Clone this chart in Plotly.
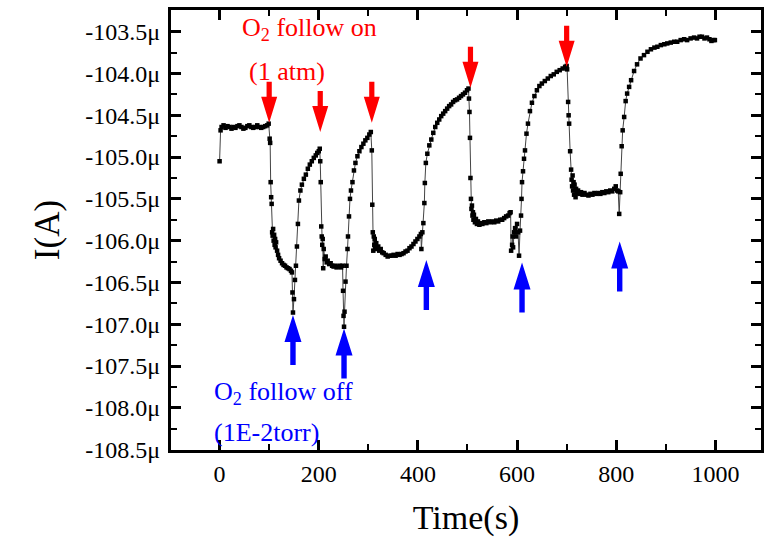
import plotly.graph_objects as go

# ---- data (time in s, current in µA) ----
time_s = [
    0, 2, 4, 8, 12, 16, 20, 24, 28, 32, 36, 40, 44, 48, 52, 56, 60, 64, 68, 72, 76, 80, 84, 88, 92, 96, 99,
    101, 102, 103, 104, 105, 106, 107, 108, 109, 110, 111, 112, 113, 114, 116, 118, 120, 123, 126, 129, 132, 135, 138, 141, 144, 146,
    147, 148, 150, 152, 154, 156, 158, 160, 163, 166, 170, 174, 178, 182, 186, 190, 194, 197, 200, 202,
    203, 204, 205, 206, 207, 208, 209, 210, 212, 214, 216, 218, 221, 224, 227, 230, 233, 236, 239, 242, 245, 248,
    249, 250, 251, 252, 254, 256, 258, 259, 261, 263, 265, 268, 271, 274, 278, 282, 286, 290, 294, 298, 302, 305,
    307, 308, 309, 310, 311, 312, 313, 314, 316, 318, 320, 322, 325, 328, 331, 335, 339, 343, 347, 351, 355, 359,
    363, 367, 371, 375, 379, 383, 387, 391, 395, 399, 403, 406, 407, 409, 411, 413, 414, 416, 419, 423, 427, 431,
    435, 439, 443, 447, 451, 455, 459, 463, 467, 471, 475, 479, 483, 487, 491, 495, 499, 502,
    503, 504, 505, 506, 507, 508, 509, 510, 511, 512, 513, 515, 517, 519, 521, 524, 527, 530, 534, 538, 542, 546,
    550, 554, 558, 562, 566, 570, 574, 578, 582, 585, 587,
    588, 590, 591, 592, 594, 596, 598, 600, 602, 604, 606, 608, 609, 610, 612, 614, 616, 619, 622, 626, 630, 635,
    640, 645, 650, 656, 662, 668, 674, 680, 686, 692, 697, 700,
    701, 703, 704, 705, 707, 709, 710, 711, 712, 713, 714, 715, 716, 718, 719, 721, 723, 726, 729, 732, 736, 740,
    744, 748, 752, 756, 760, 764, 768, 772, 776, 780, 784, 788, 792, 796, 799, 802, 804, 806, 808,
    809, 811, 813, 816, 819, 822, 826, 830, 836, 842, 849, 856, 863, 870, 877, 883, 890, 897, 903, 910, 917, 923,
    930, 937, 943, 950, 957, 963, 968, 973, 978, 983, 988, 992, 996, 999,
]
current_uA = [
    -105.05, -104.68, -104.64, -104.62, -104.65, -104.63, -104.64, -104.66, -104.64, -104.65, -104.63, -104.62,
    -104.64, -104.66, -104.65, -104.63, -104.62, -104.64, -104.65, -104.64, -104.62, -104.64, -104.65, -104.64,
    -104.63, -104.62, -104.60,
    -104.78, -104.83, -105.30, -105.48, -105.56, -105.90, -105.94, -105.86, -106.00, -105.93, -106.05, -105.98,
    -106.08, -106.02, -106.12, -106.17, -106.21, -106.24, -106.27, -106.29, -106.30, -106.32, -106.33, -106.34,
    -106.36, -106.38,
    -106.62, -106.86, -106.70, -106.47, -106.30, -106.07, -105.80, -105.52, -105.40, -105.33, -105.26, -105.21,
    -105.14, -105.09, -105.05, -105.01, -104.98, -104.95, -104.93, -104.90,
    -105.05, -105.30, -105.83, -105.95, -106.05, -105.98, -106.33, -106.10, -106.22, -106.19, -106.26, -106.24,
    -106.28, -106.27, -106.30, -106.31, -106.30, -106.32, -106.31, -106.30, -106.32, -106.30,
    -106.60, -106.90, -107.03, -106.85, -106.49, -106.30, -106.10, -105.95, -105.71, -105.50, -105.40, -105.30,
    -105.16, -105.07, -104.99, -104.93, -104.88, -104.84, -104.80, -104.77, -104.73, -104.70,
    -104.92, -105.57, -105.90, -106.12, -105.95, -106.05, -105.98, -106.08, -106.03, -106.10, -106.07, -106.12,
    -106.10, -106.14, -106.15, -106.17, -106.19, -106.18, -106.18, -106.17, -106.18, -106.16,
    -106.17, -106.16, -106.15, -106.13, -106.12, -106.09, -106.07, -106.04, -106.01, -105.98, -105.95, -105.92,
    -106.10, -105.90, -105.79, -105.55, -105.31, -105.07, -104.96, -104.86, -104.79, -104.71,
    -104.64, -104.59, -104.55, -104.51, -104.48, -104.45, -104.42, -104.39, -104.37, -104.34, -104.32, -104.31,
    -104.29, -104.27, -104.25, -104.23, -104.20, -104.18,
    -104.30, -104.46, -104.77, -105.25, -105.50, -105.62, -105.58, -105.70, -105.66, -105.75, -105.69, -105.78,
    -105.74, -105.80, -105.77, -105.81, -105.79, -105.80, -105.78, -105.79, -105.77, -105.78,
    -105.77, -105.78, -105.76, -105.77, -105.75, -105.75, -105.73, -105.71, -105.70, -105.67, -105.66,
    -106.12, -106.05, -105.95, -106.08, -105.90, -105.85, -105.95, -105.80, -105.90, -106.18, -105.88, -105.70,
    -105.50, -105.30, -105.17, -105.02, -104.92, -104.72, -104.60, -104.45, -104.35, -104.27,
    -104.20, -104.15, -104.12, -104.09, -104.06, -104.03, -104.01, -103.98, -103.96, -103.94, -103.92, -103.91,
    -103.95, -104.34, -104.50, -104.60, -104.93, -105.15, -105.27, -105.35, -105.22, -105.40, -105.30, -105.45,
    -105.33, -105.48, -105.38, -105.43, -105.40, -105.44, -105.42, -105.45, -105.43, -105.45,
    -105.46, -105.44, -105.45, -105.43, -105.44, -105.43, -105.44, -105.42, -105.43, -105.41, -105.42, -105.40,
    -105.41, -105.38, -105.35, -105.40, -105.41, -105.68, -105.42,
    -105.20, -104.87, -104.68, -104.52, -104.33, -104.24, -104.16, -104.08, -103.97, -103.89, -103.82, -103.78,
    -103.74, -103.71, -103.69, -103.68, -103.66, -103.65, -103.64, -103.63, -103.62, -103.62,
    -103.60, -103.59, -103.60, -103.58, -103.57, -103.58, -103.56, -103.56, -103.58, -103.57, -103.59, -103.61,
    -103.60, -103.60,
]

# arrow tips (data coordinates)
red_arrow_t = [100, 203, 307, 506, 700]
red_arrow_i = [-104.59, -104.70, -104.59, -104.17, -103.92]
blue_arrow_t = [148, 251, 417, 610, 807]
blue_arrow_i = [-106.89, -107.05, -106.23, -106.26, -106.01]

x_ticks = [0, 200, 400, 600, 800, 1000]
y_ticks = [-108.5, -108.0, -107.5, -107.0, -106.5, -106.0, -105.5, -105.0, -104.5, -104.0, -103.5]
y_tick_text = [f"{v:.1f}μ" for v in y_ticks]

FONT = "Liberation Serif"

fig = go.Figure()
fig.add_trace(go.Scatter(
    x=time_s, y=current_uA, mode="lines+markers",
    line=dict(color="#444444", width=1),
    marker=dict(symbol="square", size=4.5, color="black"),
    showlegend=False,
))

down_path = "M0,0 L-8,26 L-2.6,26 L-2.6,41 L2.6,41 L2.6,26 L8,26 Z"
up_path = "M0,0 L-8.5,-27 L-2.7,-27 L-2.7,-50 L2.7,-50 L2.7,-27 L8.5,-27 Z"
shapes = []
for t, i in zip(red_arrow_t, red_arrow_i):
    shapes.append(dict(type="path", xref="x", yref="y", xsizemode="pixel", ysizemode="pixel",
                       xanchor=t, yanchor=i, path=down_path, fillcolor="#ff0000",
                       line=dict(width=0)))
for t, i in zip(blue_arrow_t, blue_arrow_i):
    shapes.append(dict(type="path", xref="x", yref="y", xsizemode="pixel", ysizemode="pixel",
                       xanchor=t, yanchor=i, path=up_path, fillcolor="#0000ff",
                       line=dict(width=0)))

ann_font_red = dict(family=FONT, size=26, color="#ff0000")
ann_font_blue = dict(family=FONT, size=26, color="#0000ff")
annotations = [
    dict(x=182, y=-103.47, xref="x", yref="y", text="O<sub>2</sub> follow on", showarrow=False,
         font=ann_font_red, xanchor="center", yanchor="middle"),
    dict(x=135, y=-103.98, xref="x", yref="y", text="(1 atm)", showarrow=False,
         font=ann_font_red, xanchor="center", yanchor="middle"),
    dict(x=-15, y=-107.82, xref="x", yref="y", text="O<sub>2</sub> follow off", showarrow=False,
         font=ann_font_blue, xanchor="left", yanchor="middle"),
    dict(x=-15, y=-108.30, xref="x", yref="y", text="(1E-2torr)", showarrow=False,
         font=ann_font_blue, xanchor="left", yanchor="middle"),
]

fig.update_layout(
    width=769, height=550,
    margin=dict(l=171, r=5, t=10, b=100),
    paper_bgcolor="white", plot_bgcolor="white",
    font=dict(family=FONT, color="black", size=24),
    shapes=shapes, annotations=annotations,
    xaxis=dict(
        range=[-98, 1092], tickvals=x_ticks, ticks="inside", ticklen=10, tickwidth=2.5,
        tickcolor="black", showline=True, linewidth=3, linecolor="black", mirror="allticks",
        showgrid=False, zeroline=False, tickfont=dict(family=FONT, size=24, color="black"),
        minor=dict(dtick=100, tick0=0, ticks="inside", ticklen=6, tickwidth=2, tickcolor="black"),
        title=dict(text="Time(s)", font=dict(family=FONT, size=34, color="black"), standoff=20),
    ),
    yaxis=dict(
        range=[-108.505, -103.24], tickvals=y_ticks, ticktext=y_tick_text, ticks="inside",
        ticklen=10, tickwidth=2.5, tickcolor="black", showline=True, linewidth=3,
        linecolor="black", mirror="allticks", showgrid=False, zeroline=False,
        tickfont=dict(family=FONT, size=24, color="black"), ticklabelstandoff=3,
        minor=dict(dtick=0.25, tick0=-108.5, ticks="inside", ticklen=6, tickwidth=2, tickcolor="black"),
        title=dict(text="I(A)", font=dict(family=FONT, size=35, color="black"), standoff=16),
    ),
)

fig.write_html("out.html")
